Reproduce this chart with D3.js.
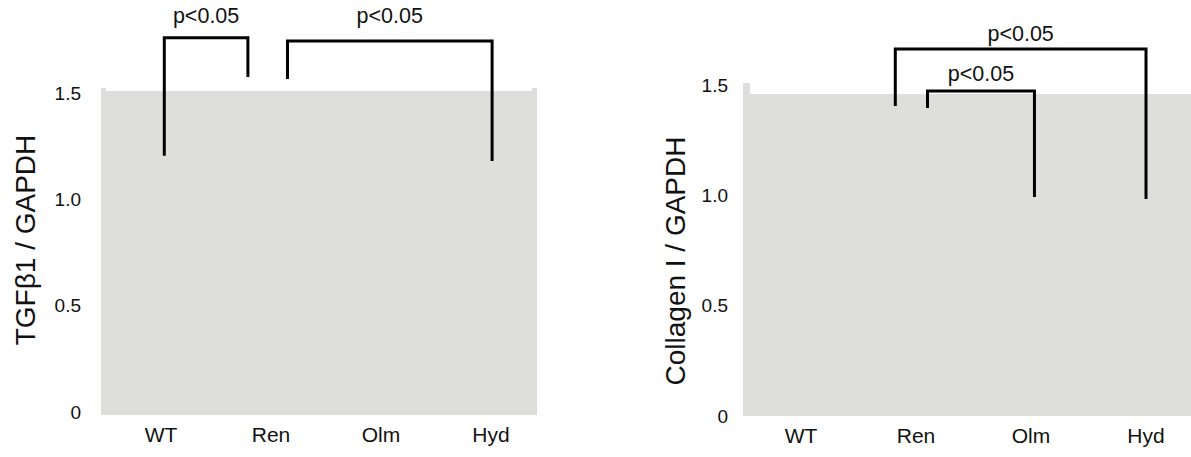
<!DOCTYPE html>
<html>
<head>
<meta charset="utf-8">
<script src="https://cdn.jsdelivr.net/npm/d3@7"></script>
<style>
  html, body { margin: 0; padding: 0; background: #fff; }
  svg { display: block; }
  text { font-family: "Liberation Sans", Arial, sans-serif; fill: #111; }
</style>
</head>
<body>
<svg id="chart" width="1191" height="457"></svg>
<script>
// ---------- data ----------
const categories = ["WT", "Ren", "Olm", "Hyd"];
const yTicks = [0, 0.5, 1.0, 1.5];
const yTickLabels = ["0", "0.5", "1.0", "1.5"];

// left panel (TGFβ1 / GAPDH) significance brackets
// positions: category index (fractional) and value on the y axis
const tgfBracketX1 = [0.03, 1.15];
const tgfBracketX2 = [0.79, 3.01];
const tgfBracketTop = [1.76, 1.745];
const tgfBracketEnd1 = [1.205, 1.566];
const tgfBracketEnd2 = [1.575, 1.18];
const tgfBracketLabelY = [1.83, 1.83];
const tgfBracketLabels = ["p<0.05", "p<0.05"];

// right panel (Collagen I / GAPDH) significance brackets
const colBracketX1 = [0.82, 1.10];
const colBracketX2 = [3.0, 2.03];
const colBracketTop = [1.663, 1.473];
const colBracketEnd1 = [1.405, 1.396];
const colBracketEnd2 = [0.983, 0.992];
const colBracketLabelY = [1.70, 1.518];
const colBracketLabels = ["p<0.05", "p<0.05"];

const panels = [
  {
    title: "TGFβ1 / GAPDH",
    plot: { left: 101, right: 537, top: 91, bottom: 415 },
    yRange: [412, 93],
    xRange: [106, 546],
    tickX: 81,
    titleX: 35, titleY: 240,
    brackets: { x1: tgfBracketX1, x2: tgfBracketX2, top: tgfBracketTop, e1: tgfBracketEnd1, e2: tgfBracketEnd2, ly: tgfBracketLabelY, lab: tgfBracketLabels },
    notches: [[101, 106, 88], [532, 537, 88]]
  },
  {
    title: "Collagen I / GAPDH",
    plot: { left: 743, right: 1191, top: 94, bottom: 416 },
    yRange: [416, 85],
    xRange: [743.5, 1203.5],
    tickX: 728,
    titleX: 685, titleY: 261,
    brackets: { x1: colBracketX1, x2: colBracketX2, top: colBracketTop, e1: colBracketEnd1, e2: colBracketEnd2, ly: colBracketLabelY, lab: colBracketLabels },
    notches: [[743, 750, 83]]
  }
];

const svg = d3.select("#chart");
const grey = "#dededd";

panels.forEach(p => {
  const g = svg.append("g");
  const y = d3.scaleLinear().domain([0, 1.5]).range(p.yRange);
  const x = d3.scaleBand().domain(categories).range(p.xRange);
  const xi = d3.scaleLinear().domain([0, categories.length - 1])
    .range([x(categories[0]) + x.bandwidth() / 2, x(categories[categories.length - 1]) + x.bandwidth() / 2]);

  // background plot area
  g.append("rect")
    .attr("x", p.plot.left).attr("y", p.plot.top)
    .attr("width", p.plot.right - p.plot.left).attr("height", p.plot.bottom - p.plot.top)
    .attr("fill", grey);
  p.notches.forEach(n => {
    g.append("rect").attr("x", n[0]).attr("y", n[2]).attr("width", n[1] - n[0])
      .attr("height", p.plot.top - n[2] + 1).attr("fill", grey);
  });

  // y axis (labels only)
  const yAxis = d3.axisLeft(y).tickValues(yTicks).tickSize(0).tickPadding(0)
    .tickFormat((d, i) => yTickLabels[i]);
  const ya = g.append("g").attr("transform", `translate(${p.tickX},0)`).call(yAxis);
  ya.select(".domain").remove();
  ya.selectAll("text").style("font-size", "19px").attr("font-family", null).attr("fill", "#111");

  // x axis (labels only)
  const xAxis = d3.axisBottom(x).tickSize(0).tickPadding(0);
  const xa = g.append("g").attr("transform", `translate(0,${p.plot.bottom + 12})`).call(xAxis);
  xa.select(".domain").remove();
  xa.selectAll("text").style("font-size", "21px").attr("font-family", null).attr("fill", "#111");

  // y title
  g.append("text")
    .attr("transform", `translate(${p.titleX},${p.titleY}) rotate(-90)`)
    .attr("text-anchor", "middle")
    .style("font-size", "28px")
    .text(p.title);

  // brackets
  const b = p.brackets;
  b.x1.forEach((_, i) => {
    const path = d3.path();
    path.moveTo(xi(b.x1[i]), y(b.e1[i]));
    path.lineTo(xi(b.x1[i]), y(b.top[i]));
    path.lineTo(xi(b.x2[i]), y(b.top[i]));
    path.lineTo(xi(b.x2[i]), y(b.e2[i]));
    g.append("path").attr("d", path.toString())
      .attr("fill", "none").attr("stroke", "#000").attr("stroke-width", 3)
      .attr("stroke-linejoin", "miter");
    g.append("text")
      .attr("x", (xi(b.x1[i]) + xi(b.x2[i])) / 2)
      .attr("y", y(b.ly[i]))
      .attr("text-anchor", "middle")
      .style("font-size", "21.5px")
      .text(b.lab[i]);
  });
});
</script>
</body>
</html>
